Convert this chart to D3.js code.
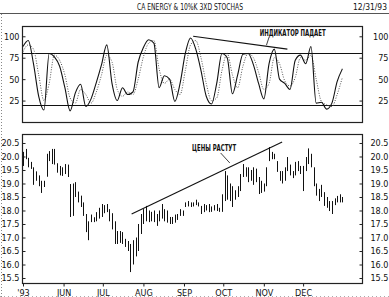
<!DOCTYPE html>
<html lang="en">
<head>
<meta charset="utf-8">
<title>CA Energy stochastics</title>
<script type="text/javascript" src="https://d3js.org/d3.v7.min.js"></script>
<style type="text/css">
    body { margin: 0; background: #fff; }
    svg { display: block; }
    text { font-family: "Liberation Sans Narrow", "DejaVu Sans Condensed", sans-serif; fill: #111; }
    .axis text { font-size: 9px; }
    .axis line { stroke: #222; }
    .axis path { display: none; }
</style>
</head>
<body>
<script type="text/javascript">

// daily bars, one every PRICE_STEP calendar days from START
var START = new Date(1993, 4, 1);
var PRICE_STEP = 2;
var STOCH_STEP = 4;

var highs = [20.17, 20.28, 19.95, 19.8, 19.6, 19.45, 19.3, 19.1, 19.1, 20.1,
             20.2, 20.28, 20.28, 19.75, 19.65, 19.6, 19.72, 19.7, 18.98, 19.0,
             19.05, 18.7, 18.55, 18.3, 17.87, 17.6, 17.85, 17.75, 17.94, 18.1,
             18.24, 18.2, 18.24, 18.05, 17.9, 17.6, 17.24, 17.24, 17.2, 16.95,
             16.87, 16.76, 16.9, 17.0, 17.5, 17.87, 18.05, 18.17, 18.0, 17.95,
             18.0, 17.87, 18.0, 18.24, 18.05, 18.0, 17.76, 17.76, 17.85, 17.87,
             18.05, 18.0, 18.3, 18.35, 18.3, 18.3, 18.4, 18.3, 18.17, 18.24,
             18.2, 18.24, 18.15, 18.2, 18.24, 18.1, 18.6, 19.46, 19.3, 19.0,
             18.9, 18.75, 18.9, 19.35, 19.72, 19.6, 19.6, 19.5, 19.6, 19.55,
             19.24, 19.1, 19.0, 19.6, 20.35, 20.17, 20.1, 19.83, 19.46, 19.46,
             19.6, 19.98, 19.7, 19.46, 19.8, 19.83, 19.65, 19.65, 19.98, 20.3,
             20.1, 19.6, 19.0, 18.8, 18.95, 18.68, 18.5, 18.35, 18.35, 18.45,
             18.54, 18.6, 18.5];
var lows  = [19.65, 19.9, 19.6, 19.54, 18.95, 19.1, 18.9, 18.65, 18.87, 19.25,
             19.83, 19.72, 19.7, 19.4, 19.3, 19.28, 19.35, 19.24, 17.76, 17.8,
             18.5, 18.3, 18.13, 17.8, 17.2, 16.9, 17.57, 17.57, 17.6, 17.7,
             17.76, 17.9, 17.94, 17.6, 17.3, 16.76, 16.76, 16.8, 16.76, 16.65,
             16.5, 15.72, 16.0, 16.3, 16.5, 17.13, 17.5, 17.6, 17.57, 17.6,
             17.57, 17.43, 17.6, 17.7, 17.6, 17.55, 17.5, 17.5, 17.55, 17.65,
             17.8, 17.8, 18.13, 18.15, 18.13, 18.15, 18.2, 18.15, 17.87, 17.94,
             18.0, 17.94, 17.95, 18.0, 17.98, 17.95, 17.95, 18.35, 18.4, 18.35,
             18.13, 18.4, 18.5, 18.72, 19.24, 19.25, 19.05, 19.1, 18.95, 19.05,
             18.61, 18.65, 18.7, 18.9, 19.83, 19.9, 19.9, 19.43, 19.1, 19.0,
             19.1, 19.46, 19.3, 19.2, 19.3, 19.46, 19.35, 18.72, 19.46, 19.72,
             19.6, 18.9, 18.55, 18.35, 18.5, 18.17, 18.1, 17.98, 17.87, 18.2,
             18.3, 18.3, 18.3];

// stochastic, one value every STOCH_STEP calendar days
var stochK = [88, 95, 68, 30, 14, 80, 76, 65, 40, 13,
              34, 44, 18, 27, 46, 67, 90, 45, 25, 40,
              32, 35, 70, 87, 96, 92, 40, 54, 50, 24,
              45, 80, 98, 85, 60, 30, 21, 45, 80, 75,
              33, 55, 79, 80, 67, 45, 27, 68, 85, 50,
              45, 38, 72, 78, 68, 88, 22, 23, 15, 22,
              47, 62];
var stochD = [82, 90, 85, 55, 25, 45, 78, 72, 55, 28,
              22, 38, 32, 22, 35, 55, 78, 70, 38, 30,
              35, 32, 50, 76, 92, 95, 62, 45, 50, 38,
              32, 60, 90, 95, 75, 45, 25, 28, 60, 80,
              55, 40, 65, 80, 75, 58, 38, 45, 75, 68,
              48, 42, 52, 75, 72, 78, 50, 24, 20, 18,
              32, 52];

var stochTicks = [25, 50, 75, 100];
var stochLevels = [20, 80];
var priceTicks = [15.5, 16.0, 16.5, 17.0, 17.5, 18.0, 18.5, 19.0, 19.5, 20.0, 20.5];

// annotations: [day offset, value]
var stochTrend = [[130, 100], [202, 85]];
var stochLeader = [[188.5, 99], [186.3, 89.6]];
var stochNote = {day: 206, value: 100, text: "ИНДИКАТОР ПАДАЕТ"};
var priceTrend = [[83, 17.87], [198, 20.54]];
var priceLeader = [[151.9, 20.13], [158, 19.76]];
var priceNote = {day: 146.6, value: 20.2, text: "ЦЕНЫ РАСТУТ"};

var title = "CA ENERGY & 10%K 3XD STOCHAS";
var dateLabel = "12/31/93";

function dayDate(n) { return d3.timeDay.offset(START, n); }

var W = 389, H = 297;
var left = 22, right = 362;
var top1 = 26, bot1 = 122;
var top2 = 134, bot2 = 283;

var svg = d3.select("body").append("svg").attr("width", W).attr("height", H);

var xScale = d3.scaleTime().domain([START, dayDate(259)]).range([left + 1, right]);
var yStoch = d3.scaleLinear().domain([0, 112]).range([bot1, top1]);
var yPrice = d3.scaleLinear().domain([15.315, 20.833]).range([bot2, top2]);

// page furniture
svg.append("line").attr("x1", 0).attr("x2", W).attr("y1", 13.5).attr("y2", 13.5)
    .attr("stroke", "#555").attr("stroke-width", 1);
svg.append("line").attr("x1", 1.5).attr("x2", 1.5).attr("y1", 14).attr("y2", H)
    .attr("stroke", "#888").attr("stroke-dasharray", "1,2");
svg.append("line").attr("x1", 0).attr("x2", W).attr("y1", 296.5).attr("y2", 296.5)
    .attr("stroke", "#aaa").attr("stroke-dasharray", "1,3");

svg.append("text").attr("x", 190).attr("y", 10).attr("text-anchor", "middle")
    .attr("font-size", 9).attr("textLength", 106).attr("lengthAdjust", "spacingAndGlyphs")
    .text(title);
svg.append("text").attr("x", 387).attr("y", 10).attr("text-anchor", "end")
    .attr("font-size", 9).attr("textLength", 34).attr("lengthAdjust", "spacingAndGlyphs")
    .text(dateLabel);

// frames
[[top1, bot1], [top2, bot2]].forEach(function(p) {
    svg.append("rect")
        .attr("x", left + 0.5).attr("y", p[0] + 0.5)
        .attr("width", right - left).attr("height", p[1] - p[0])
        .attr("fill", "none").attr("stroke", "#222").attr("stroke-width", 1.2);
});

// stochastic axes
svg.append("g").attr("class", "axis")
    .attr("transform", `translate(${left + 0.5},0)`)
    .call(d3.axisLeft(yStoch).tickValues(stochTicks).tickSize(-3).tickPadding(3));
svg.append("g").attr("class", "axis")
    .attr("transform", `translate(${right + 0.5},0)`)
    .call(d3.axisRight(yStoch).tickValues(stochTicks).tickSize(-3).tickPadding(26))
    .selectAll("text").attr("text-anchor", "end");

svg.selectAll("line.level")
    .data(stochLevels)
    .enter()
    .append("line")
    .attr("class", "level")
    .attr("x1", left).attr("x2", right)
    .attr("y1", d => Math.round(yStoch(d)) + 0.5)
    .attr("y2", d => Math.round(yStoch(d)) + 0.5)
    .attr("stroke", "#111").attr("stroke-width", 1.1);

var stochLine = d3.line()
    .x((d, i) => xScale(dayDate(i * STOCH_STEP)))
    .y(d => yStoch(d))
    .curve(d3.curveMonotoneX);

svg.append("path").datum(stochD)
    .attr("d", stochLine)
    .attr("fill", "none").attr("stroke", "#555").attr("stroke-width", 1)
    .attr("stroke-dasharray", "1,1.5");
svg.append("path").datum(stochK)
    .attr("d", stochLine)
    .attr("fill", "none").attr("stroke", "#111").attr("stroke-width", 1.1);

// price axes
svg.append("g").attr("class", "axis")
    .attr("transform", `translate(${left + 0.5},0)`)
    .call(d3.axisLeft(yPrice).tickValues(priceTicks).tickSize(-3).tickPadding(3).tickFormat(d3.format(".1f")));
svg.append("g").attr("class", "axis")
    .attr("transform", `translate(${right + 0.5},0)`)
    .call(d3.axisRight(yPrice).tickValues(priceTicks).tickSize(-3).tickPadding(26).tickFormat(d3.format(".1f")))
    .selectAll("text").attr("text-anchor", "end");

var months = d3.timeMonth.range(START, new Date(1994, 0, 1));
var xAxis = d3.axisBottom(xScale)
    .tickValues(months)
    .tickSize(3)
    .tickPadding(3)
    .tickFormat(function(d) {
        if (d.getMonth() === 4) return "'93";
        return d3.timeFormat("%b")(d).toUpperCase();
    });
svg.append("g").attr("class", "axis xAxis")
    .attr("transform", `translate(0, ${bot2 + 0.5})`)
    .call(xAxis)
    .selectAll("text").attr("font-size", 8);

// price bars
svg.selectAll("line.bar")
    .data(highs)
    .enter()
    .append("line")
    .attr("class", "bar")
    .attr("x1", (d, i) => Math.round(xScale(dayDate(i * PRICE_STEP))) + 0.5)
    .attr("x2", (d, i) => Math.round(xScale(dayDate(i * PRICE_STEP))) + 0.5)
    .attr("y1", d => yPrice(d))
    .attr("y2", (d, i) => yPrice(lows[i]))
    .attr("stroke", "#111").attr("stroke-width", 1);

// annotations
function drawSeg(pts, y, w) {
    svg.append("line")
        .attr("x1", xScale(dayDate(pts[0][0]))).attr("y1", y(pts[0][1]))
        .attr("x2", xScale(dayDate(pts[1][0]))).attr("y2", y(pts[1][1]))
        .attr("stroke", "#111").attr("stroke-width", w);
}
drawSeg(stochTrend, yStoch, 1.1);
drawSeg(stochLeader, yStoch, 0.8);
drawSeg(priceTrend, yPrice, 1.1);
drawSeg(priceLeader, yPrice, 0.8);

svg.append("text")
    .attr("x", xScale(dayDate(stochNote.day))).attr("y", yStoch(stochNote.value))
    .attr("text-anchor", "middle").attr("font-size", 8.5).attr("font-weight", "bold")
    .attr("textLength", 66).attr("lengthAdjust", "spacingAndGlyphs")
    .text(stochNote.text);
svg.append("text")
    .attr("x", xScale(dayDate(priceNote.day))).attr("y", yPrice(priceNote.value))
    .attr("text-anchor", "middle").attr("font-size", 8.5).attr("font-weight", "bold")
    .attr("textLength", 44).attr("lengthAdjust", "spacingAndGlyphs")
    .text(priceNote.text);

</script>
</body>
</html>
